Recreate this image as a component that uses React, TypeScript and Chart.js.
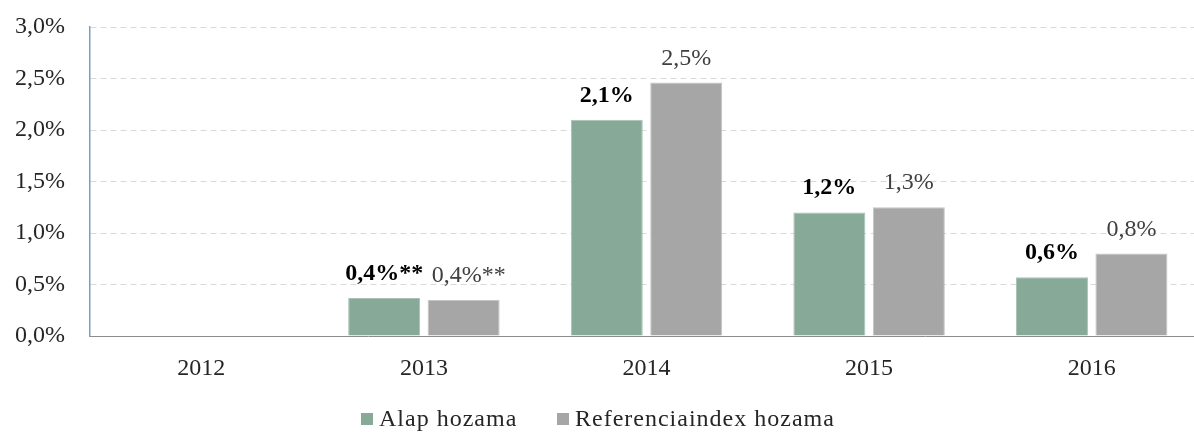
import React, { useEffect, useRef } from "react";
import { Chart, registerables } from "chart.js";

Chart.register(...registerables);

const categories = ["2012", "2013", "2014", "2015", "2016"];
const alapValues: (number | null)[] = [null, 0.37, 2.1, 1.2, 0.57];
const refValues: (number | null)[] = [null, 0.35, 2.46, 1.25, 0.8];
const alapLabels = ["", "0,4%**", "2,1%", "1,2%", "0,6%"];
const refLabels = ["", "0,4%**", "2,5%", "1,3%", "0,8%"];
const seriesNames = ["Alap hozama", "Referenciaindex hozama"];
const yTicks = [0, 0.5, 1, 1.5, 2, 2.5, 3];

const GREEN = "#87A998";
const GRAY = "#A6A6A6";
const FONT = "'Liberation Serif', 'DejaVu Serif', serif";

const labelPlugin = {
  id: "barLabels",
  afterDatasetsDraw(chart: any) {
    const ctx = chart.ctx;
    ctx.save();
    ctx.textAlign = "center";
    ctx.textBaseline = "alphabetic";
    chart.data.datasets.forEach((ds: any, di: number) => {
      const meta = chart.getDatasetMeta(di);
      const labels = di === 0 ? alapLabels : refLabels;
      meta.data.forEach((bar: any, i: number) => {
        const txt = labels[i];
        if (!txt || ds.data[i] == null) return;
        ctx.font = di === 0 ? `bold 24px ${FONT}` : `24px ${FONT}`;
        ctx.fillStyle = di === 0 ? "#000000" : "#404040";
        const dx = di === 1 && txt.includes("**") ? 5 : 0;
        ctx.fillText(txt, bar.x + dx, bar.y - 18);
      });
    });
    ctx.restore();
  },
  afterDraw(chart: any) {
    const ctx = chart.ctx;
    ctx.save();
    ctx.font = `24px ${FONT}`;
    try {
      (ctx as any).letterSpacing = "1px";
    } catch (e) {}
    ctx.textBaseline = "middle";
    ctx.textAlign = "left";
    const y = 419;
    const items = [
      { x: 361, color: GREEN, text: seriesNames[0] },
      { x: 557, color: GRAY, text: seriesNames[1] },
    ];
    items.forEach((it) => {
      ctx.fillStyle = it.color;
      ctx.fillRect(it.x, y - 6, 12, 12);
      ctx.fillStyle = "#262626";
      ctx.fillText(it.text, it.x + 18, y + 1);
    });
    ctx.restore();
  },
};

export default function App() {
  const ref = useRef<HTMLCanvasElement | null>(null);
  useEffect(() => {
    document.body.style.overflow = "hidden";
    const canvas = ref.current!;
    const chart = new Chart(canvas, {
      type: "bar",
      data: {
        labels: categories,
        datasets: [
          {
            label: seriesNames[0],
            data: alapValues,
            backgroundColor: GREEN,
            borderColor: "#A9C2B5",
            borderWidth: 1,
            categoryPercentage: 0.714,
            barPercentage: 0.906,
          },
          {
            label: seriesNames[1],
            data: refValues,
            backgroundColor: GRAY,
            borderColor: "#C4C4C4",
            borderWidth: 1,
            categoryPercentage: 0.714,
            barPercentage: 0.906,
          },
        ],
      },
      options: {
        animation: false,
        responsive: false,
        maintainAspectRatio: false,
        layout: { padding: { top: 27, right: 17, left: 0, bottom: 0 } },
        plugins: {
          legend: { display: false },
          tooltip: { enabled: false },
        },
        scales: {
          x: {
            grid: { display: false, drawTicks: false },
            border: { display: true, color: "#8C8C8C", width: 1 },
            ticks: {
              padding: 18,
              color: "#262626",
              font: { family: FONT, size: 24 },
            },
            afterFit: (s: any) => {
              s.height = 96;
              s.paddingLeft = 0;
              s.paddingRight = 0;
            },
          },
          y: {
            min: 0,
            max: 3,
            afterBuildTicks: (s: any) => {
              s.ticks = yTicks.map((v) => ({ value: v }));
            },
            grid: {
              drawTicks: false,
              color: (c: any) => (c.tick && c.tick.value === 0 ? "rgba(0,0,0,0)" : "#D9D9D9"),
              lineWidth: 1,
            },
            border: { display: true, color: "#7F9DBE", width: 1.5, dash: [6, 4] as any },
            ticks: {
              padding: 25,
              color: "#262626",
              font: { family: FONT, size: 24 },
              callback: (v: any) => Number(v).toFixed(1).replace(".", ",") + "%",
            },
            afterFit: (s: any) => {
              s.width = 90;
              s.paddingTop = 0;
              s.paddingBottom = 0;
            },
          },
        },
      },
      plugins: [labelPlugin],
    });
    return () => chart.destroy();
  }, []);
  return (
    <div style={{ position: "fixed", left: 0, top: 0, width: 1220, height: 432 }}>
      <canvas ref={ref} width={1220} height={432} style={{ display: "block" }} />
    </div>
  );
}
